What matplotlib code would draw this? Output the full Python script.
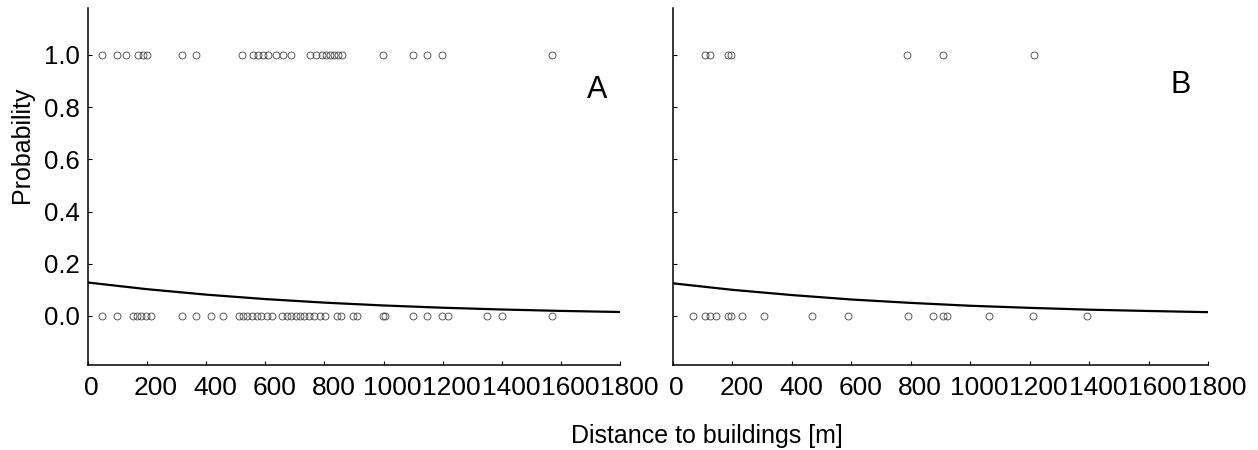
import numpy as np
import matplotlib
matplotlib.use('Agg')
import matplotlib.pyplot as plt
from matplotlib.transforms import ScaledTranslation

plt.rcParams['font.family'] = ['Liberation Sans', 'DejaVu Sans']

# --- data (distance in m) ---
a_present = [46, 99, 128, 170, 187, 199, 319, 364, 520, 559, 574, 591, 610,
             636, 661, 687, 751, 771, 793, 805, 819, 832, 847, 860,
             999, 1100, 1148, 1197, 1571]
a_absent = [46, 97, 151, 165, 179, 195, 213, 319, 364, 416, 456,
            511, 525, 539, 556, 571, 585, 605, 621,
            657, 672, 687, 703, 717, 732, 749, 766, 785, 802,
            841, 855, 895, 911, 999, 1004, 1100, 1148, 1197, 1219,
            1349, 1400, 1571]
b_present = [108, 124, 186, 194, 786, 909, 1215]
b_absent = [66, 108, 124, 145, 186, 195, 231, 307, 467, 590, 790,
            874, 909, 923, 1064, 1212, 1392]

# fitted probability curves, read every 200 m
curve_x = [0, 200, 400, 600, 800, 1000, 1200, 1400, 1600, 1800]
a_curve = [0.128, 0.1025, 0.0816, 0.0646, 0.0510, 0.0401, 0.0315, 0.0247, 0.0193, 0.0151]
b_curve = [0.125, 0.100, 0.080, 0.063, 0.050, 0.039, 0.031, 0.024, 0.019, 0.0145]

x_ticks = [0, 200, 400, 600, 800, 1000, 1200, 1400, 1600, 1800]
y_ticks = [0.0, 0.2, 0.4, 0.6, 0.8, 1.0]

W, H = 1258, 450
fig = plt.figure(figsize=(W / 100, H / 100), dpi=100, facecolor='white')
ax_a = fig.add_axes([88 / W, 85 / H, 532 / W, 357 / H])
ax_b = fig.add_axes([673 / W, 85 / H, 535 / W, 357 / H])

MARKER = dict(linestyle='none', marker='o', markersize=5, markerfacecolor='none',
              markeredgecolor='#404040', markeredgewidth=0.6, zorder=3)

panels = [(ax_a, a_present, a_absent, a_curve, 'A', 0.957, 0.770),
          (ax_b, b_present, b_absent, b_curve, 'B', 0.948, 0.784)]

for ax, pres, absn, curve, tag, tx, ty in panels:
    ax.plot(pres, [1.0] * len(pres), **MARKER)
    ax.plot(absn, [0.0] * len(absn), **MARKER)
    ax.plot(curve_x, curve, color='black', linewidth=1.6, zorder=4)

    ax.set_xlim(0, 1800)
    ax.set_ylim(-0.188, 1.18)
    ax.set_xticks(x_ticks)
    ax.set_xticklabels([str(t) for t in x_ticks])
    ax.set_yticks(y_ticks)
    ax.set_yticklabels([f'{t:.1f}' for t in y_ticks])

    for s in ['top', 'right']:
        ax.spines[s].set_visible(False)
    for s in ['left', 'bottom']:
        ax.spines[s].set_linewidth(1.1)
        ax.spines[s].set_color('black')

    ax.tick_params(direction='in', length=3, width=0.8, colors='black')
    ax.tick_params(axis='x', pad=8, labelsize=19)
    ax.tick_params(axis='y', pad=6, labelsize=18.5)

    # labels sit a little right of their ticks in the original
    for lab in ax.get_xticklabels():
        dx = 3 if lab.get_text() == '0' else 9
        lab.set_transform(lab.get_transform() + ScaledTranslation(dx / 100, 0, fig.dpi_scale_trans))

    ax.text(tx, ty, tag, transform=ax.transAxes, fontsize=22,
            ha='center', va='center', color='black')

ax_b.tick_params(axis='y', labelleft=False)

fig.text(22 / W, 1 - 145 / H, 'Probability', rotation=90, fontsize=18,
         ha='center', va='center')
fig.text(707 / W, 1 - 436 / H, 'Distance to buildings [m]', fontsize=18,
         ha='center', va='center')

fig.savefig('out.png', dpi=100, facecolor='white')
plt.close(fig)
